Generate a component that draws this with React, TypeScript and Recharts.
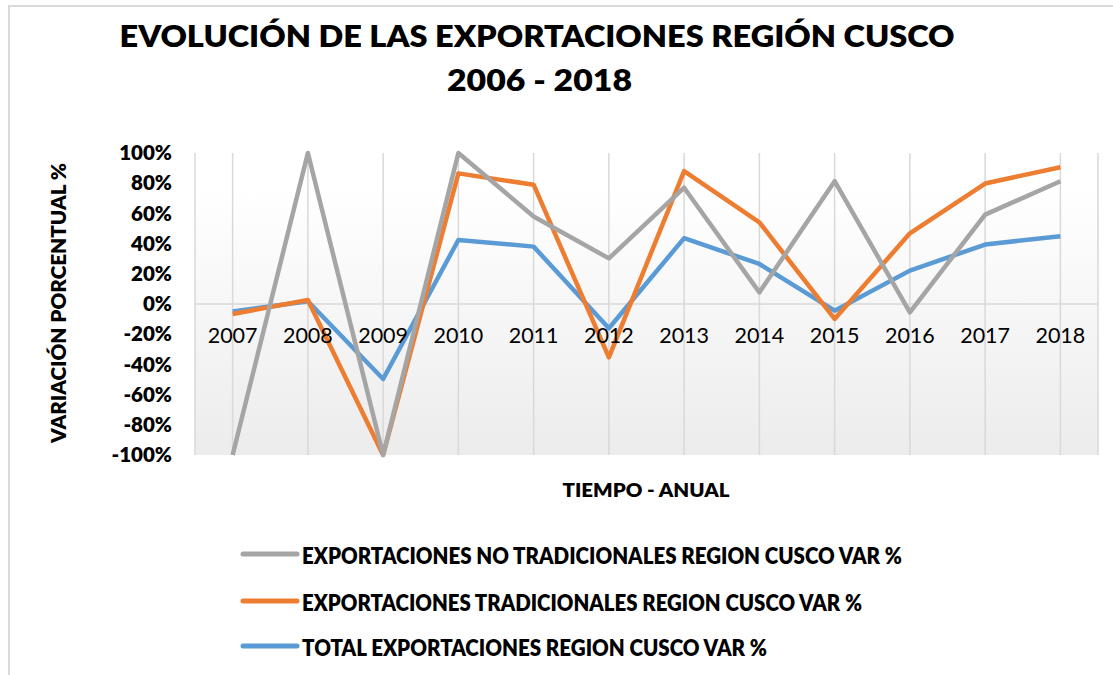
import React from 'react';
import { LineChart, Line, XAxis, YAxis, CartesianGrid, ReferenceLine } from 'recharts';

const years = ['2007', '2008', '2009', '2010', '2011', '2012', '2013', '2014', '2015', '2016', '2017', '2018'];
const noTradicionales = [-100, 100, -100, 100, 58, 30.2, 77, 7.7, 81.3, -5.5, 59.2, 81.3];
const tradicionales = [-6.6, 2.7, -100, 86.5, 79, -35.3, 88, 54.1, -9.9, 46.8, 79.8, 90.6];
const total = [-5, 1.8, -49.7, 42.4, 38, -16.1, 43.6, 26.5, -4.4, 22.1, 39.4, 44.9];
const yTicks = [-100, -80, -60, -40, -20, 0, 20, 40, 60, 80, 100];

const seriesNames = [
  'EXPORTACIONES NO TRADICIONALES REGION CUSCO VAR %',
  'EXPORTACIONES TRADICIONALES REGION CUSCO VAR %',
  'TOTAL EXPORTACIONES REGION CUSCO VAR %',
];
const seriesColors = ['#a5a5a5', '#ed7d31', '#5b9bd5'];
const legendTextWidths = [600, 560, 465];

const data = years.map((y, i) => ({
  year: y,
  nt: noTradicionales[i],
  t: tradicionales[i],
  tot: total[i],
}));

const W = 1113;
const H = 675;
const M_TOP = 153;
const M_BOTTOM = 190;
const X_AXIS_H = 30;
const PLOT_H = H - M_TOP - M_BOTTOM - X_AXIS_H;
const FONT = 'Lato, "Open Sans", sans-serif';

const XTick = (props: any) => {
  const { x, payload } = props;
  const zeroY = M_TOP + PLOT_H / 2;
  return (
    <text x={x} y={zeroY + 31} textAnchor="middle" dominantBaseline="central"
      fontFamily={FONT} fontSize={21.5} fill="#000">
      {payload.value}
    </text>
  );
};

export default function App() {
  return (
    <div style={{ position: 'absolute', left: 0, top: 0, width: W, height: H, background: '#fff', overflow: 'hidden' }}>
      <div style={{ position: 'absolute', left: 8, top: 5, width: W, height: H, border: '2px solid #d9d9d9', boxSizing: 'border-box' }} />
      <div style={{ position: 'absolute', left: 0, top: 0 }}>
        <LineChart width={W} height={H} data={data}
          margin={{ top: M_TOP, right: 15, bottom: M_BOTTOM, left: 75 }}>
          <defs>
            <linearGradient id="plotBg" x1="0" y1="0" x2="0" y2="1">
              <stop offset="0%" stopColor="#ffffff" />
              <stop offset="12%" stopColor="#ffffff" />
              <stop offset="100%" stopColor="#ececec" />
            </linearGradient>
          </defs>
          <CartesianGrid horizontal={false} vertical={true} stroke="#d9d9d9" strokeWidth={1.5} fill="url(#plotBg)" />
          <XAxis dataKey="year" scale="band" height={X_AXIS_H} axisLine={false} tickLine={false} interval={0} tick={<XTick />} />
          <YAxis width={120} domain={[-100, 100]} ticks={yTicks} interval={0}
            axisLine={false} tickLine={false} tickSize={0} tickMargin={23}
            tickFormatter={(v: number) => `${v}%`}
            tick={{ fontFamily: FONT, fontSize: 20.5, fontWeight: 800, fill: '#000' }} />
          <ReferenceLine y={0} stroke="#d9d9d9" strokeWidth={1.5} />
          <Line type="linear" dataKey="tot" stroke={seriesColors[2]} strokeWidth={4.5} dot={false}
            strokeLinejoin="round" isAnimationActive={false} />
          <Line type="linear" dataKey="t" stroke={seriesColors[1]} strokeWidth={4.5} dot={false}
            strokeLinejoin="round" isAnimationActive={false} />
          <Line type="linear" dataKey="nt" stroke={seriesColors[0]} strokeWidth={4.5} dot={false}
            strokeLinejoin="round" isAnimationActive={false} />
        </LineChart>
      </div>
      <svg width={W} height={H} style={{ position: 'absolute', left: 0, top: 0, pointerEvents: 'none' }}>
        <text x={537} y={47} textAnchor="middle" fontFamily={FONT} fontWeight={800} fontSize={31}
          textLength={835} lengthAdjust="spacingAndGlyphs" fill="#000">
          EVOLUCIÓN DE LAS EXPORTACIONES REGIÓN CUSCO
        </text>
        <text x={539.5} y={91} textAnchor="middle" fontFamily={FONT} fontWeight={800} fontSize={31}
          textLength={185} lengthAdjust="spacingAndGlyphs" fill="#000">
          2006 - 2018
        </text>
        <text transform="translate(66,303) rotate(-90)" textAnchor="middle" fontFamily={FONT} fontWeight={800}
          fontSize={20.5} textLength={280} lengthAdjust="spacingAndGlyphs" fill="#000">
          VARIACIÓN PORCENTUAL %
        </text>
        <text x={646} y={497} textAnchor="middle" fontFamily={FONT} fontWeight={800} fontSize={19}
          textLength={167} lengthAdjust="spacingAndGlyphs" fill="#000">
          TIEMPO - ANUAL
        </text>
        {seriesNames.map((name, i) => {
          const cy = [555, 602, 647][i];
          return (
            <g key={name}>
              <line x1={243} x2={297} y1={cy - 1} y2={cy - 1} stroke={seriesColors[i]} strokeWidth={5} strokeLinecap="round" />
              <text x={302} y={cy} dominantBaseline="central" fontFamily={FONT} fontWeight={800} fontSize={22}
                textLength={legendTextWidths[i]} lengthAdjust="spacingAndGlyphs" fill="#000">
                {name}
              </text>
            </g>
          );
        })}
      </svg>
    </div>
  );
}
